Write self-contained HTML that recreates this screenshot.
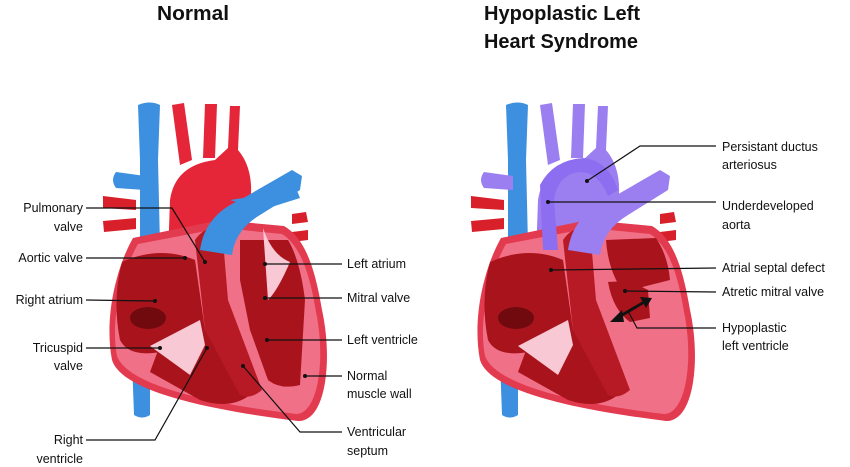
<!DOCTYPE html>
<html><head><meta charset="utf-8"><style>
html,body{margin:0;padding:0;background:#fff;}
svg{display:block;}
text{font-family:"Liberation Sans",sans-serif;font-size:12.5px;fill:#111;}
.t{font-weight:bold;font-size:20px;}
</style></head><body>
<svg width="850" height="467" viewBox="0 0 850 467" xmlns="http://www.w3.org/2000/svg">
<defs>
<g id="heart">
  <path d="M132,360 L134,415 Q142,420 150,415 L150,360 Z" fill="#3d8fe0"/>
  <path d="M103,196 L136,200 L136,210 L103,208 Z M103,221 L136,218 L136,229 L104,232 Z" fill="#d8202a"/>
  <path d="M292,214 L306,212 L308,222 L292,224 Z M292,232 L308,230 L308,240 L292,242 Z" fill="#d8202a"/>
  <path d="M138,105 Q150,100 160,105 L158,160 L160,245 L140,245 L140,160 Z" fill="#3d8fe0"/>
  <path d="M116,172 L145,176 L145,190 L116,188 Q110,180 116,172Z" fill="var(--pa)"/>
  <path d="M168,258 L170,200 Q175,165 215,160 L228,148 L230,106 L240,106 L238,150 Q255,170 250,205 L248,235 L205,240 L190,258 Z" fill="var(--ao)"/>
  <path d="M172,105 L184,103 L192,160 L180,165 Z M205,104 L217,104 L215,158 L203,158 Z" fill="var(--ao)"/>
  <path d="M133,238 C116,268 104,318 112,360 C122,392 210,410 298,421 C326,422 333,360 322,310 C315,268 305,238 284,226 L220,220 Z" fill="#e23a4e"/>
  <path d="M138,244 C122,272 110,320 117,356 C128,386 212,404 296,414 C318,414 326,360 316,312 C310,274 300,245 282,234 L222,228 Z" fill="#f07088"/>
  <path d="M122,262 Q160,245 195,260 L205,330 L170,350 Q130,360 120,340 Q112,300 122,262Z" fill="#a9141c"/>
  <ellipse cx="148" cy="318" rx="18" ry="11" fill="#700a0e"/>
  <path d="M160,345 L205,330 L250,395 Q230,410 200,400 L150,372 Z" fill="#a9141c"/>
  <path d="M195,240 Q205,225 222,228 L228,300 L262,390 Q250,400 240,395 L205,330 Z" fill="#b71a24"/>
  <path d="M240,240 L288,240 Q300,260 305,300 L300,385 Q280,390 268,380 L250,330 L240,280 Z" fill="var(--lv)"/>
  <path d="M150,346 L200,320 L205,345 L190,375 Z" fill="#f8c8d4"/>
</g>
</defs>

<text class="t" x="157" y="20" textLength="72" lengthAdjust="spacingAndGlyphs">Normal</text>
<text class="t" x="484" y="20" textLength="156" lengthAdjust="spacingAndGlyphs">Hypoplastic Left</text>
<text class="t" x="484" y="48" textLength="154" lengthAdjust="spacingAndGlyphs">Heart Syndrome</text>

<use href="#heart" style="--ao:#e52538;--pa:#3d8fe0;--lv:#a9141c"/>
<path d="M200,250 Q205,215 240,200 L292,170 L302,176 L300,190 L260,215 Q235,230 232,255 Z" fill="#3d8fe0"/>
<path d="M230,200 L262,195 L296,188 L300,198 L262,210 Z" fill="#3d8fe0"/>
<path d="M263,228 Q272,255 290,262 Q278,290 268,300 Z" fill="#f8c8d4"/>

<g transform="translate(368,0)">
<use href="#heart" style="--ao:#9b7ff0;--pa:#9b7ff0;--lv:#f07088"/>
<path d="M238,240 L288,238 Q300,256 302,280 L255,292 Q240,270 238,240Z" fill="#a9141c"/>
<path d="M172,185 Q185,160 215,158 Q240,160 250,190 L240,196 Q230,172 212,172 Q190,174 186,200 L190,250 L175,250 Z" fill="#8d6ef0"/>
<path d="M200,250 Q205,215 240,200 L292,170 L302,176 L300,190 L260,215 Q235,230 232,255 Z" fill="#9b7ff0"/>
<path d="M216,180 L224,180 L222,205 L214,205 Z" fill="#9b7ff0"/>
<path d="M240,282 Q262,280 280,290 L282,318 L262,322 Q245,310 240,282Z" fill="#a9141c"/>
</g>

<g stroke="#111" stroke-width="1.2" fill="none">
<polyline points="86,208 172,208 205,262"/>
<line x1="86" y1="258" x2="185" y2="258"/>
<line x1="86" y1="300" x2="155" y2="301"/>
<line x1="86" y1="348" x2="160" y2="348"/>
<polyline points="86,440 155,440 207,348"/>
<line x1="265" y1="264" x2="342" y2="264"/>
<line x1="265" y1="298" x2="342" y2="298"/>
<line x1="267" y1="340" x2="342" y2="340"/>
<line x1="305" y1="376" x2="342" y2="376"/>
<polyline points="243,366 300,432 342,432"/>
<polyline points="587,181 640,146 716,146"/>
<line x1="548" y1="202" x2="716" y2="202"/>
<line x1="551" y1="270" x2="716" y2="268"/>
<line x1="625" y1="291" x2="716" y2="292"/>
<polyline points="628,311 637,328 716,328"/>
<line x1="617" y1="318" x2="646" y2="301" stroke-width="3"/>
</g>
<path d="M610,322 L622,310 L624,322 Z M652,298 L640,297 L646,308 Z" fill="#111"/>
<g fill="#111">
<circle cx="205" cy="262" r="2"/><circle cx="185" cy="258" r="2"/><circle cx="155" cy="301" r="2"/><circle cx="160" cy="348" r="2"/><circle cx="207" cy="348" r="2"/>
<circle cx="265" cy="264" r="2"/><circle cx="265" cy="298" r="2"/><circle cx="267" cy="340" r="2"/><circle cx="305" cy="376" r="2"/><circle cx="243" cy="366" r="2"/>
<circle cx="587" cy="181" r="2"/><circle cx="548" cy="202" r="2"/><circle cx="551" cy="270" r="2"/><circle cx="625" cy="291" r="2"/>
</g>

<g text-anchor="end">
<text x="83" y="212">Pulmonary</text><text x="83" y="231">valve</text>
<text x="83" y="262">Aortic valve</text>
<text x="83" y="304">Right atrium</text>
<text x="83" y="352">Tricuspid</text><text x="83" y="370">valve</text>
<text x="83" y="444">Right</text><text x="83" y="463">ventricle</text>
</g>
<text x="347" y="268">Left atrium</text>
<text x="347" y="302">Mitral valve</text>
<text x="347" y="344">Left ventricle</text>
<text x="347" y="380">Normal</text><text x="347" y="398">muscle wall</text>
<text x="347" y="436">Ventricular</text><text x="347" y="455">septum</text>
<text x="722" y="151">Persistant ductus</text><text x="722" y="169">arteriosus</text>
<text x="722" y="210">Underdeveloped</text><text x="722" y="229">aorta</text>
<text x="722" y="272">Atrial septal defect</text>
<text x="722" y="296">Atretic mitral valve</text>
<text x="722" y="332">Hypoplastic</text><text x="722" y="350">left ventricle</text>
</svg>
</body></html>
